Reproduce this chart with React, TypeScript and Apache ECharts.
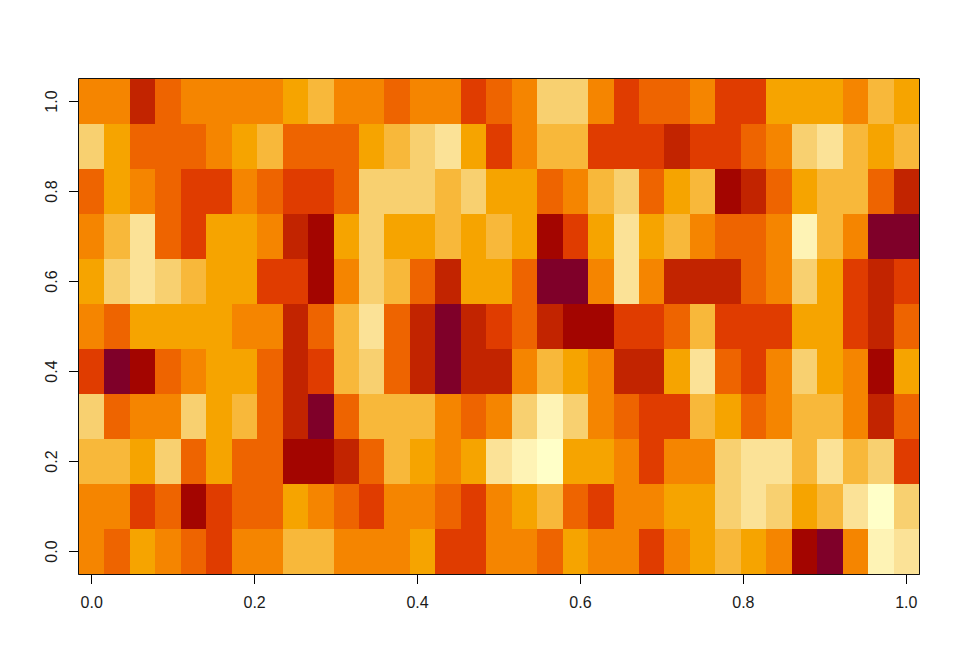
import React, { useEffect, useRef } from "react";
import * as echarts from "echarts";

// Colour levels: 0 = darkest, 11 = lightest.
const palette = [
  "#7F0029", "#A30500", "#C22400", "#E03C00", "#EE6400", "#F58500",
  "#F6A400", "#F8B83A", "#F8D070", "#FBE297", "#FEF3B5", "#FFFFC8",
];

const rowY10 = [5,5,2,4,5,5,5,5,6,7,5,5,4,5,5,3,4,5,8,8,5,3,4,4,5,3,3,6,6,6,5,7,6];
const rowY09 = [8,6,4,4,4,5,6,7,4,4,4,6,7,8,9,6,3,5,7,7,3,3,3,2,3,3,4,5,8,9,7,6,7];
const rowY08 = [4,6,5,4,3,3,5,4,3,3,4,8,8,8,7,8,6,6,4,5,7,8,4,6,7,1,2,4,6,7,7,4,2];
const rowY07 = [5,7,9,4,3,6,6,5,2,1,6,8,6,6,7,6,7,6,1,3,6,9,6,7,5,4,4,5,10,7,5,0,0];
const rowY06 = [6,8,9,8,7,6,6,3,3,1,5,8,7,4,2,6,6,4,0,0,5,9,5,2,2,2,4,5,8,6,3,2,3];
const rowY05 = [5,4,6,6,6,6,5,5,2,4,7,9,4,2,0,2,3,4,2,1,1,3,3,4,7,3,3,3,6,6,3,2,4];
const rowY04 = [3,0,1,4,5,6,6,4,2,3,7,8,4,2,0,2,2,5,7,6,5,2,2,6,9,4,3,5,8,6,5,1,6];
const rowY03 = [8,4,5,5,8,6,7,4,2,0,4,7,7,7,5,4,5,8,10,8,5,4,3,3,7,6,4,5,7,7,5,2,4];
const rowY02 = [7,7,6,8,4,6,4,4,1,1,2,4,7,6,5,6,9,10,11,6,6,5,3,5,5,8,9,9,7,9,7,8,3];
const rowY01 = [5,5,3,4,1,3,4,4,6,5,4,3,5,5,4,3,5,6,7,4,3,5,5,6,6,8,9,8,6,7,9,11,8];
const rowY00 = [5,4,6,5,4,3,5,5,7,7,5,5,5,6,3,3,5,5,4,6,5,5,3,5,6,7,6,5,1,0,5,10,9];

const rows = [rowY00, rowY01, rowY02, rowY03, rowY04, rowY05, rowY06, rowY07, rowY08, rowY09, rowY10];
const tickValues = [0, 0.2, 0.4, 0.6, 0.8, 1];
const halfX = 1 / 64;
const halfY = 0.05;

const cells: number[][] = [];
rows.forEach((row, j) => row.forEach((level, i) => cells.push([i / 32, j / 10, level])));

const FONT = "'Liberation Sans', Arial, sans-serif";

export default function App() {
  const ref = useRef<HTMLDivElement>(null);
  useEffect(() => {
    const chart = echarts.init(ref.current!, null, { renderer: "svg" });
    const axisCommon = {
      type: "value",
      splitLine: { show: false },
      axisLine: { show: true, onZero: false, lineStyle: { color: "#000", width: 1 } },
      axisTick: { show: true, length: 10, inside: false, lineStyle: { color: "#000", width: 1 }, customValues: tickValues },
    };
    const labelCommon = {
      customValues: tickValues,
      margin: 20,
      fontFamily: FONT,
      fontSize: 16,
      color: "#1a1a1a",
      formatter: (v: number) => v.toFixed(1),
    };
    chart.setOption({
      animation: false,
      backgroundColor: "#fff",
      grid: { left: 79, top: 79, width: 840, height: 495, containLabel: false },
      xAxis: { ...axisCommon, min: -halfX, max: 1 + halfX, axisLabel: { ...labelCommon } },
      yAxis: { ...axisCommon, min: -halfY, max: 1 + halfY, axisLabel: { ...labelCommon, rotate: 90 } },
      series: [
        {
          type: "custom",
          coordinateSystem: "cartesian2d",
          silent: true,
          encode: { x: 0, y: 1 },
          data: cells,
          renderItem: (_p: any, api: any) => {
            const x = api.value(0);
            const y = api.value(1);
            const a = api.coord([x - halfX, y + halfY]);
            const b = api.coord([x + halfX, y - halfY]);
            const x0 = Math.round(a[0]);
            const y0 = Math.round(a[1]);
            return {
              type: "rect",
              shape: { x: x0, y: y0, width: Math.round(b[0]) - x0, height: Math.round(b[1]) - y0 },
              style: { fill: palette[api.value(2)] },
            };
          },
        },
      ],
      graphic: [
        {
          type: "rect",
          z: 100,
          silent: true,
          shape: { x: 78.5, y: 78.5, width: 841, height: 496 },
          style: { fill: "none", stroke: "#111", lineWidth: 1 },
        },
      ],
    });
    return () => chart.dispose();
  }, []);
  return <div ref={ref} style={{ position: "fixed", left: 0, top: 0, width: 960, height: 672 }} />;
}
